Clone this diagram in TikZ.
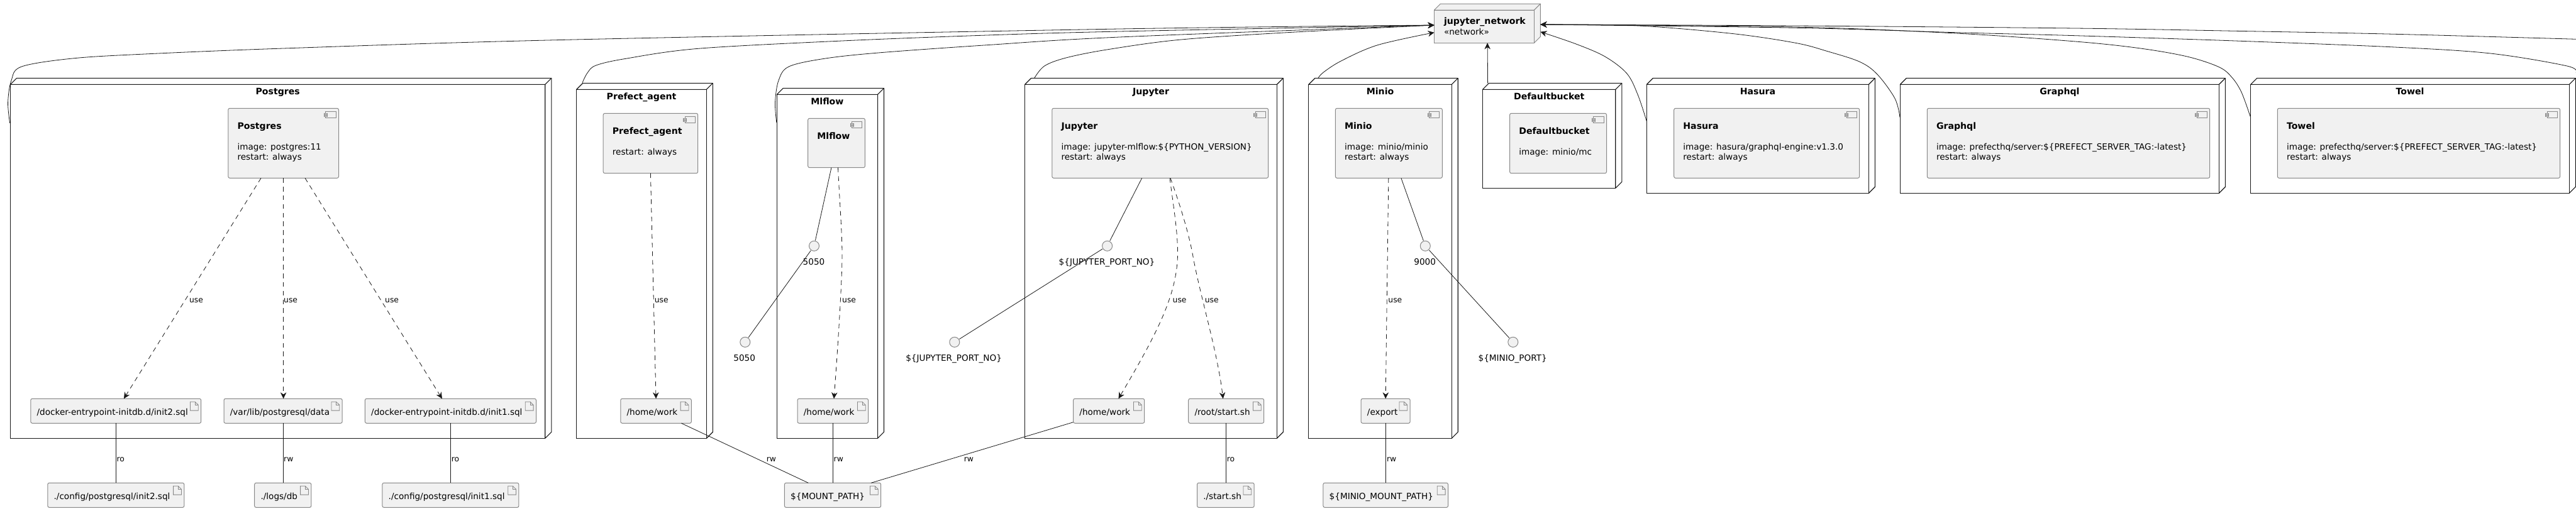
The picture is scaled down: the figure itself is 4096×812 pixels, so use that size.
\documentclass[tikz,border=0pt]{standalone}
\usepackage{fontspec}
\setmainfont{DejaVu Sans}
\usetikzlibrary{arrows.meta,calc}
\definecolor{boxfill}{HTML}{F1F1F1}
\definecolor{boxline}{HTML}{888888}
\definecolor{ink}{HTML}{181818}
\newcommand{\fsmain}{\fontsize{13.6}{16}\selectfont}
\newcommand{\fsbold}{\fontsize{14.1}{16}\selectfont\bfseries}
\newcommand{\fsedge}{\fontsize{12.35}{15}\selectfont}
\tikzset{
  frontbox/.style={draw=ink,line width=1.1pt,fill=white,anchor=north west,inner sep=0pt,outer sep=0pt},
  sidebox/.style={draw=ink,line width=1.1pt,fill=white,line join=round},
  netside/.style={draw=boxline,line width=1pt,fill=boxfill,line join=round},
  netfront/.style={draw=boxline,line width=1pt,fill=boxfill,anchor=north west,inner sep=0pt,outer sep=0pt},
  compbox/.style={draw=boxline,line width=1pt,fill=boxfill,rounded corners=2.5pt,anchor=north west,inner sep=0pt,outer sep=0pt},
  iconline/.style={draw=boxline,line width=.8pt,fill=boxfill},
  txt/.style={font=\fsmain,text=black,inner sep=0pt,anchor=base west},
  txtb/.style={font=\fsbold,text=black,inner sep=0pt,anchor=base west},
  ctitle/.style={font=\fsbold,text=black,inner sep=0pt,anchor=base},
  ctxt/.style={font=\fsmain,text=black,inner sep=0pt,anchor=base},
  edgetxt/.style={font=\fsedge,text=black,inner sep=0pt,anchor=base west},
  link/.style={draw=ink,line width=.8pt},
  uselink/.style={draw=ink,line width=.8pt,dash pattern=on 7.5pt off 6.3pt,-{Stealth[length=10pt,width=9.5pt,inset=3.2pt]}},
  netlink/.style={draw=ink,line width=.8pt,-{Stealth[length=10pt,width=9.5pt,inset=3.2pt]}},
  portcircle/.style={circle,draw=boxline,line width=1pt,fill=boxfill,minimum size=16pt,inner sep=0pt,outer sep=1pt},
}
% name x1 ytop(back) x2 ybottom title
\newcommand{\ddnode}[6]{%
  \pgfmathsetmacro{\bw}{#4-#2}\pgfmathsetmacro{\bh}{#5-#3-10}%
  \draw[sidebox] (#2,#3+10) -- (#2+10,#3) -- (#4+10,#3) -- (#4+10,#5-10) -- (#4,#5) -- (#4,#3+10) -- cycle;
  \node[frontbox,minimum width=\bw pt,minimum height=\bh pt] (#1) at (#2,#3+10) {};
  \draw[sidebox,fill=none] (#4,#3+10) -- (#4+10,#3);
  \node[ctitle] (#1title) at ($(#2,#3+25.7)!.5!(#4,#3+25.7)$) {#6};
}
% name x1 y1 x2 y2 title line1 line2
\newcommand{\compo}[8]{%
  \pgfmathsetmacro{\bw}{#4-#2}\pgfmathsetmacro{\bh}{#5-#3}%
  \node[compbox,minimum width=\bw pt,minimum height=\bh pt] (#1) at (#2,#3) {};
  \begin{scope}[shift={(#1.north east)}]
    \draw[iconline] (-20.7,5) rectangle (-4.6,15.3);
    \draw[iconline] (-23,7.7) rectangle (-18,9.7);
    \draw[iconline] (-23,11) rectangle (-18,13.3);
  \end{scope}
  \node[txtb] (#1t) at (#2+14.5,#3+32.7) {#6};
  \if\relax\detokenize{#7}\relax\else\node[txt] (#1a) at (#2+14.5,#3+65.7) {#7};\fi
  \if\relax\detokenize{#8}\relax\else\node[txt] (#1b) at (#2+14.5,#3+81.7) {#8};\fi
}
% name x1 y1 x2 y2 text
\newcommand{\arti}[6]{%
  \pgfmathsetmacro{\bw}{#4-#2}\pgfmathsetmacro{\bh}{#5-#3}%
  \node[compbox,minimum width=\bw pt,minimum height=\bh pt] (#1) at (#2,#3) {};
  \begin{scope}[shift={(#1.north east)}]
    \draw[iconline] (-17.2,5) -- (-9.5,5) -- (-4.4,10) -- (-4.4,18.8) -- (-17.2,18.8) -- cycle;
    \draw[draw=boxline,line width=.8pt] (-9.5,5) -- (-9.5,10) -- (-4.4,10);
  \end{scope}
  \node[txt] (#1t) at (#2+9.6,#3+25.7) {#6};
}
\begin{document}
\begin{tikzpicture}[x=1pt,y=-1pt]
\useasboundingbox (0,0) rectangle (4096,812);
\fill[white] (0,0) rectangle (4096,812);

% containers
\ddnode{pgn}{16.6}{124.3}{866.8}{697.3}{Postgres}
\ddnode{pan}{916.7}{132.3}{1123.4}{697.3}{Prefect\_agent}
\ddnode{mfn}{1235.3}{140.3}{1395.5}{697.3}{Mlflow}
\ddnode{jun}{1629.7}{124.3}{2030.4}{697.3}{Jupyter}
\ddnode{min}{2080.9}{124.3}{2308.2}{697.3}{Minio}
\ddnode{dbn}{2357.6}{132.3}{2568.8}{299.3}{Defaultbucket}
\ddnode{han}{2618.4}{124.3}{2971.4}{307.3}{Hasura}
\ddnode{grn}{3021.4}{124.3}{3528.4}{307.3}{Graphql}
\ddnode{ton}{3578.7}{124.3}{4085.3}{307.3}{Towel}

% network node
\draw[netside] (2280.5,16) -- (2290.5,6) -- (2449.4,6) -- (2449.4,58.3) -- (2439.4,68.3) -- (2439.4,16) -- cycle;
\node[netfront,minimum width=158.9pt,minimum height=52.3pt] (net) at (2280.5,16) {};
\draw[draw=boxline,line width=1pt] (2439.4,16) -- (2449.4,6);
\node[txtb] (nett) at (2295.8,38.6) {jupyter\_network};
\node[txt] (netk) at (2295.8,55) {«network»};
\coordinate (netL) at ($(net.north west)+(0,24)$);
\coordinate (netLb) at ($(net.north west)+(0,35.7)$);
\coordinate (netR) at ($(net.north east)+(10,23)$);
\coordinate (netRb) at ($(net.north east)+(10,34.7)$);
\coordinate (exitA) at (4096,62.3);
\coordinate (exitB) at (4096,116);

% components
\compo{pgc}{362.8}{172.3}{538.5}{283.3}{Postgres}{image: postgres:11}{restart: always}
\compo{pac}{959.2}{180.3}{1109.6}{275.7}{Prefect\_agent}{restart: always}{}
\compo{mfc}{1284.7}{188.3}{1375.4}{266.7}{Mlflow}{}{}
\compo{juc}{1672.8}{172.3}{2016.6}{283.3}{Jupyter}{image: jupyter-mlflow:\$\{PYTHON\_VERSION\}}{restart: always}
\compo{mic}{2123.4}{172.3}{2293.3}{283.3}{Minio}{image: minio/minio}{restart: always}
\compo{dbc}{2400.6}{180.3}{2554.5}{275.7}{Defaultbucket}{image: minio/mc}{}
\compo{hac}{2661.7}{172.3}{2956.6}{283.3}{Hasura}{image: hasura/graphql-engine:v1.3.0}{restart: always}
\compo{grc}{3064.3}{172.3}{3513.7}{283.3}{Graphql}{image: prefecthq/server:\$\{PREFECT\_SERVER\_TAG:-latest\}}{restart: always}
\compo{toc}{3621.3}{172.3}{4070.6}{283.3}{Towel}{image: prefecthq/server:\$\{PREFECT\_SERVER\_TAG:-latest\}}{restart: always}

% files inside
\arti{a1}{48.8}{634.3}{319.7}{673.3}{/docker-entrypoint-initdb.d/init2.sql}
\arti{a2}{356}{634.3}{544.2}{673.3}{/var/lib/postgresql/data}
\arti{a3}{580.4}{634.3}{852.5}{673.3}{/docker-entrypoint-initdb.d/init1.sql}
\arti{a4}{986.8}{634.3}{1099.3}{673.3}{/home/work}
\arti{a5}{1268}{634.3}{1380.6}{673.3}{/home/work}
\arti{a6}{1706.6}{634.3}{1819.7}{673.3}{/home/work}
\arti{a7}{1889.7}{634.3}{2009.7}{673.3}{/root/start.sh}
\arti{a8}{2164.1}{634.3}{2242.2}{673.3}{/export}
% files outside
\arti{b1}{75.8}{768.3}{292.8}{807.3}{./config/postgresql/init2.sql}
\arti{b2}{404.7}{768.3}{494.8}{807.3}{./logs/db}
\arti{b3}{607.9}{768.3}{824.9}{807.3}{./config/postgresql/init1.sql}
\arti{b4}{1247.4}{768.3}{1400.7}{807.3}{\$\{MOUNT\_PATH\}}
\arti{b5}{1903.5}{768.3}{1994.2}{807.3}{./start.sh}
\arti{b6}{2103.9}{768.3}{2302.5}{807.3}{\$\{MINIO\_MOUNT\_PATH\}}

% ports
\node[portcircle] (p1) at (1294.5,391.3) {};
\node[portcircle] (p2) at (1184.8,544.3) {};
\node[portcircle] (p3) at (1760.6,391.3) {};
\node[portcircle] (p4) at (1517.8,544.3) {};
\node[portcircle] (p5) at (2266.3,391.3) {};
\node[portcircle] (p6) at (2405.8,544.3) {};
\node[ctxt] (p1t) at (1294,421) {5050};
\node[ctxt] (p2t) at (1183.7,574.3) {5050};
\node[ctxt] (p3t) at (1760,421) {\$\{JUPYTER\_PORT\_NO\}};
\node[ctxt] (p4t) at (1516.6,574.3) {\$\{JUPYTER\_PORT\_NO\}};
\node[ctxt] (p5t) at (2265.7,421) {9000};
\node[ctxt] (p6t) at (2405.2,574.3) {\$\{MINIO\_PORT\}};

% use links
\draw[uselink] ([xshift=-35.6pt]pgc.south) -- ([xshift=12.7pt]a1.north);
\draw[uselink] (pgc.south) -- (pgc.south |- a2.north);
\draw[uselink] ([xshift=34.4pt]pgc.south) -- ([xshift=-13.5pt]a3.north);
\draw[uselink] (pac.south) -- (a4.north);
\draw[uselink] ([xshift=2.4pt]mfc.south) .. controls (1335,320) and (1339,370) .. (1339,406) .. controls (1339,450) and (1331,570) .. ([xshift=1.7pt]a5.north);
\draw[uselink] ([xshift=15.3pt]juc.south) .. controls (1866,330) and (1873,370) .. (1872.5,406) .. controls (1871,470) and (1840,530) .. ([xshift=15.3pt]a6.north);
\draw[uselink] ([xshift=16.3pt]juc.south) .. controls (1876,325) and (1890,370) .. (1896.6,406) .. controls (1908,470) and (1936,560) .. ([xshift=-5pt]a7.north);
\draw[uselink] ([xshift=-.5pt]mic.south) -- (a8.north);

% ports links
\draw[link] ([xshift=-8.1pt]mfc.south) -- (p1);
\draw[link] (p1) -- (p2);
\draw[link] ([xshift=-29pt]juc.south) -- (p3);
\draw[link] (p3) -- (p4);
\draw[link] ([xshift=19.5pt]mic.south) -- (p5);
\draw[link] (p5) -- (p6);

% mounts
\draw[link] (a1.south) -- (a1.south |- b1.north);
\draw[link] (a2.south) -- (a2.south |- b2.north);
\draw[link] (a3.south) -- (a3.south |- b3.north);
\draw[link] ([xshift=40.2pt]a4.south) -- ([xshift=-38.8pt]b4.north);
\draw[link] (a5.south) -- (a5.south |- b4.north);
\draw[link] ([yshift=1.6pt]a6.south west) -- ([xshift=61pt]b4.north);
\draw[link] (a7.south) -- (a7.south |- b5.north);
\draw[link] (a8.south) -- (a8.south |- b6.north);

% link labels
\node[edgetxt] (u1) at (300.8,481) {use};
\node[edgetxt] (u2) at (451,481) {use};
\node[edgetxt] (u3) at (612,481) {use};
\node[edgetxt] (u4) at (1040.7,481) {use};
\node[edgetxt] (u5) at (1339,481) {use};
\node[edgetxt] (u6) at (1864.5,481) {use};
\node[edgetxt] (u7) at (1915.6,481) {use};
\node[edgetxt] (u8) at (2207.2,481) {use};
\node[edgetxt] (m1) at (185.4,734.3) {ro};
\node[edgetxt] (m2) at (451,734.3) {rw};
\node[edgetxt] (m3) at (717.6,734.3) {ro};
\node[edgetxt] (m4) at (1218.7,734.3) {rw};
\node[edgetxt] (m5) at (1325.5,734.3) {rw};
\node[edgetxt] (m6) at (1532.7,734.3) {rw};
\node[edgetxt] (m7) at (1950.6,734.3) {ro};
\node[edgetxt] (m8) at (2204.9,734.3) {rw};

% network links
\draw[netlink] plot[smooth,tension=.55] coordinates {($(pgn.north west)+(-1,61.4)$) (12.6,163) (18,128) (34.4,106) (115,93) (230,86) (459,76.7) (900,63.3) (1780,46) (netL)};
\draw[netlink] plot[smooth,tension=.55] coordinates {($(pan.north west)+(9.3,-10.6)$) (934,116) (947.7,104) (995,93.3) (1110,77.3) (1339,65) (1569,56) (1780,50) (netL)};
\draw[netlink] plot[smooth,tension=.55] coordinates {($(mfn.north west)+(-.5,44.7)$) (1232.5,163) (1238,128) (1254.3,106) (1310.5,93.3) (1396.7,84) (1569,71.7) (1780,59) (netL)};
\draw[netlink] plot[smooth,tension=.55] coordinates {($(jun.north west)+(15,-10)$) (1660.7,105) (1695,92) (1760,79) (1875,63.3) (2047,51.7) (netL)};
\draw[netlink] plot[smooth,tension=.55] coordinates {($(min.north west)+(15,-10)$) (2104.4,115) (2133,96.7) (2190.5,71.7) (netLb)};
\draw[netlink] ($(dbn.north west)+(8,-10)$) -- ($(net.south)+(5.1,0)$);
\draw[netlink] plot[smooth,tension=.55] coordinates {($(han.north west)+(-.2,58.4)$) (2603.9,150) (2586.6,116.7) (2552,90) (2506,70) (netRb)};
\draw[netlink] plot[smooth,tension=.55] coordinates {($(grn.north west)+(-.4,52.4)$) (3013,156.7) (2985,118.3) (2957,98.3) (2906,81.7) (2855,68.3) (2753,53.3) (2600,40.7) (netR)};
\draw[netlink] plot[smooth,tension=.55] coordinates {($(ton.north west)+(-.5,51.4)$) (3564,146.7) (3549,123.3) (3528.4,106.7) (3477.7,90) (3401.5,76.7) (3300,66) (3110,53) (2855,43) (netR)};
\draw[netlink] plot[smooth,tension=.55] coordinates {(exitB) (4081.7,105) (3960,85) (3807.6,75) (3554,65) (3300,56.7) (3110,51.7) (2855,44.3) (netR)};
\draw[netlink] plot[smooth,tension=.55] coordinates {(exitA) (3807.6,54.3) (3554,49.3) (3300,45) (2855,41) (netR)};
\end{tikzpicture}
\end{document}
